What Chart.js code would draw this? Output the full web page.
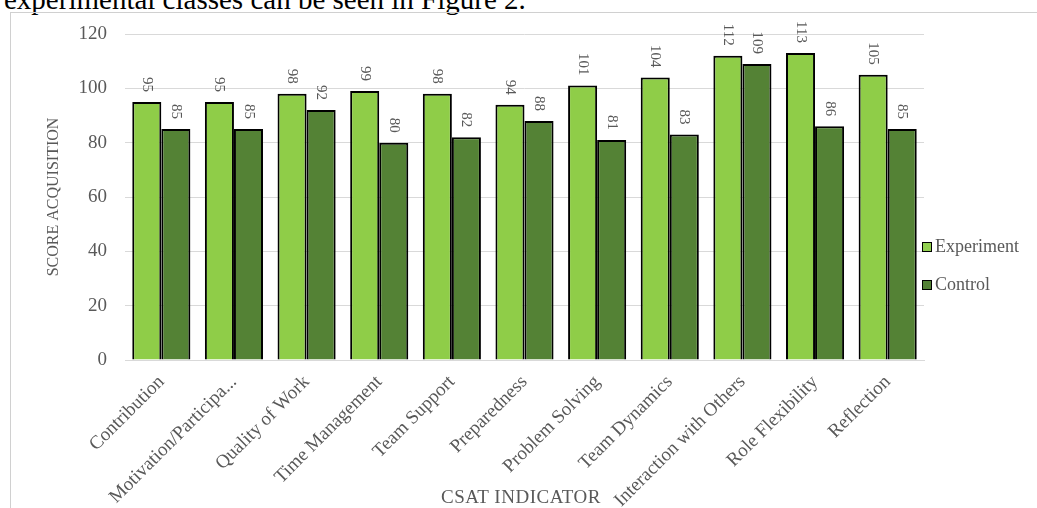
<!DOCTYPE html>
<html>
<head>
<meta charset="utf-8">
<script src="https://cdn.jsdelivr.net/npm/chart.js@4"></script>
<style>
  html, body { margin: 0; padding: 0; background: #fff; width: 1037px; height: 508px; overflow: hidden; }
  #caption { position: absolute; left: 4px; top: -17px; font: 29px "Liberation Serif", "DejaVu Serif", serif; color: #000; white-space: nowrap; }
  #frame { position: absolute; left: 10px; top: 12px; width: 1040px; height: 510px; border: 1px solid #d0d0d0; box-sizing: border-box; }
  #wrap { position: absolute; left: 0; top: 0; width: 1037px; height: 508px; }
  #xtitle { position: absolute; left: 441px; top: 486px; font: 19px "Liberation Serif", serif; color: #595959; white-space: nowrap; letter-spacing: 0.5px; }
  .leg { position: absolute; left: 922px; font: 18px "Liberation Serif", serif; color: #595959; white-space: nowrap; display: flex; align-items: center; }
  .leg i { display: inline-block; width: 8px; height: 8px; border: 1.5px solid #000; margin-right: 3px; }
</style>
</head>
<body>
<div id="caption">experimental classes can be seen in Figure 2.</div>
<div id="frame"></div>
<div id="wrap"><canvas id="c" width="1037" height="508"></canvas></div>
<div id="xtitle">CSAT INDICATOR</div>
<div class="leg" style="top:236px"><i style="background:#92D050"></i>Experiment</div>
<div class="leg" style="top:274px"><i style="background:#538135"></i>Control</div>
<script>
const categories = ["Contribution", "Motivation/Participa...", "Quality of Work", "Time Management", "Team Support", "Preparedness", "Problem Solving", "Team Dynamics", "Interaction with Others", "Role Flexibility", "Reflection"];
const experiment = [95, 95, 98, 99, 98, 94, 101, 104, 112, 113, 105];
const control = [85, 85, 92, 80, 82, 88, 81, 83, 109, 86, 85];
const yTicks = [0, 20, 40, 60, 80, 100, 120];

const serif = '"Liberation Serif", "DejaVu Serif", serif';

const valueLabels = {
  id: 'valueLabels',
  afterDatasetsDraw(chart) {
    const ctx = chart.ctx;
    ctx.save();
    ctx.font = '15px ' + serif;
    ctx.fillStyle = '#595959';
    ctx.textAlign = 'right';
    ctx.textBaseline = 'middle';
    chart.data.datasets.forEach((ds, di) => {
      chart.getDatasetMeta(di).data.forEach((bar, i) => {
        ctx.save();
        ctx.translate(bar.x, bar.y - 10);
        ctx.rotate(Math.PI / 2);
        ctx.fillText(String(ds.data[i]), 0, 0);
        ctx.restore();
      });
    });
    ctx.restore();
  }
};

new Chart(document.getElementById('c'), {
  type: 'bar',
  data: {
    labels: categories,
    datasets: [
      { label: 'Experiment', data: experiment, backgroundColor: '#8FCD48', borderColor: '#000', borderWidth: 2, borderSkipped: 'bottom' },
      { label: 'Control', data: control, backgroundColor: '#548235', borderColor: '#000', borderWidth: 2, borderSkipped: 'bottom' }
    ]
  },
  options: {
    responsive: false,
    animation: false,
    events: [],
    layout: { padding: { left: 40, right: 113, top: 34, bottom: 0 } },
    datasets: { bar: { categoryPercentage: 0.8, barPercentage: 1.0 } },
    plugins: { legend: { display: false }, tooltip: { enabled: false } },
    scales: {
      x: {
        grid: { display: false, drawTicks: false },
        border: { display: true, color: '#d9d9d9', width: 1 },
        ticks: { color: '#595959', font: { family: serif, size: 19 }, maxRotation: 45, minRotation: 45, padding: 11, autoSkip: false },
        afterFit(s) { s.height = 148; }
      },
      y: {
        min: 0, max: 120,
        afterBuildTicks(s) { s.ticks = yTicks.map(v => ({ value: v })); },
        grid: { color: '#d9d9d9', lineWidth: 1, drawTicks: false },
        border: { display: false },
        ticks: { color: '#595959', font: { family: serif, size: 19 }, padding: 18 },
        title: { display: true, text: 'SCORE ACQUISITION', color: '#595959', font: { family: serif, size: 16 }, padding: { top: 4, bottom: 0 } },
        afterFit(s) { s.width = 85; }
      }
    }
  },
  plugins: [valueLabels]
});
</script>
</body>
</html>
